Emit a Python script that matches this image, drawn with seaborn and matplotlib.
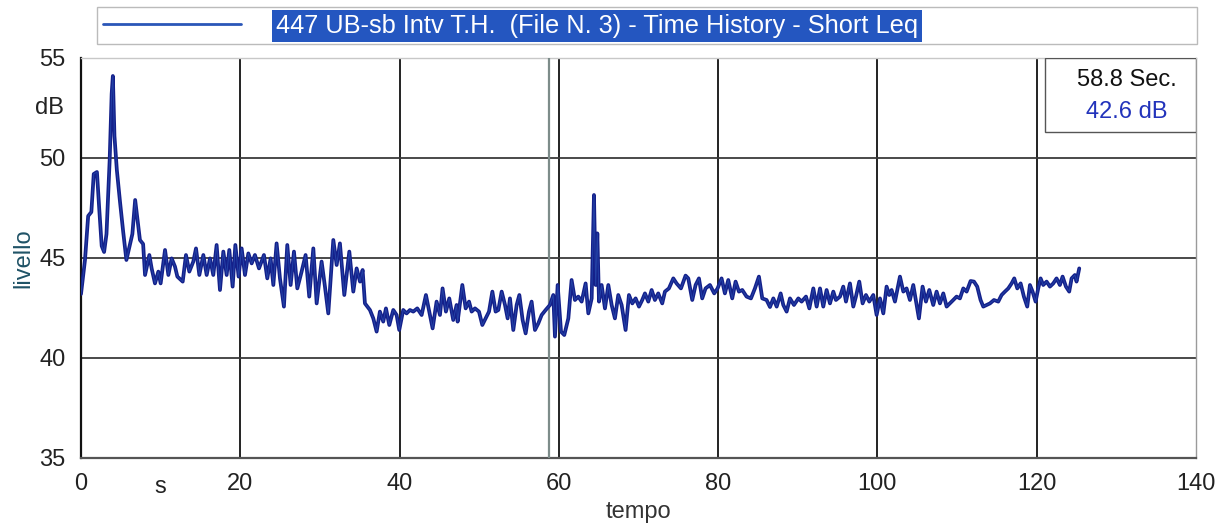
import matplotlib
matplotlib.use("Agg")
import matplotlib.pyplot as plt
import matplotlib.transforms as mtransforms
from matplotlib.patches import Rectangle
import seaborn as sns
import pandas as pd

# ---------------- data ----------------
time_s = [
    0.0, 0.5, 0.9, 1.3, 1.6, 2.0, 2.3, 2.6, 2.9, 3.2, 3.6, 3.85, 4.0, 4.2, 4.5, 4.9, 5.3, 5.7, 6.1, 6.45,
    6.8, 7.1, 7.4, 7.8, 8.04, 8.58, 8.87, 9.29, 9.71, 10.0, 10.55, 10.97, 11.38, 11.8, 12.1, 12.77, 13.18,
    13.6, 14.1, 14.44, 14.86, 15.36, 15.78, 16.2, 16.61, 17.03, 17.45, 17.87, 18.29, 18.62, 19.04, 19.38,
    19.79, 20.17, 20.59, 21.01, 21.43, 21.84, 22.35, 22.97, 23.39, 23.81, 24.15, 24.56, 24.98, 25.48, 25.9,
    26.32, 26.74, 27.16, 27.7, 28.2, 28.66, 29.17, 29.59, 30.21, 30.63, 31.05, 31.68, 32.1, 32.51, 33.06,
    33.69, 34.19, 34.61, 35.03, 35.36, 35.65, 36.28, 36.7, 37.12, 37.53, 37.95, 38.29, 38.71, 39.21, 39.63,
    39.96, 40.46, 40.88, 41.3, 41.72, 42.22, 42.77, 43.31, 43.73, 44.15, 44.65, 45.07, 45.4, 45.82, 46.24,
    46.74, 47.16, 47.29, 47.88, 48.3, 48.72, 49.05, 49.47, 49.97, 50.39, 50.81, 51.23, 51.65, 52.06, 52.4,
    52.82, 53.24, 53.57, 53.86, 54.28, 54.7, 55.04, 55.45, 55.83, 56.25, 56.58, 57.0, 57.42, 57.84, 58.34,
    58.88, 59.3, 59.51, 59.85, 60.27, 60.68, 61.19, 61.6, 62.02, 62.44, 62.86, 63.36, 63.7, 64.12, 64.41,
    64.62, 64.83, 65.04, 65.37, 65.79, 66.21, 66.63, 67.04, 67.46, 67.88, 68.38, 68.8, 69.22, 69.64, 70.06,
    70.47, 70.81, 71.23, 71.65, 72.06, 72.48, 72.98, 73.32, 73.82, 74.37, 74.78, 75.33, 75.91, 76.25, 76.75,
    77.17, 77.59, 78.0, 78.42, 78.97, 79.51, 79.93, 80.43, 80.85, 81.27, 81.77, 82.19, 82.61, 83.03, 83.57,
    84.12, 84.62, 85.12, 85.54, 86.08, 86.51, 86.93, 87.35, 87.85, 88.18, 88.6, 89.02, 89.52, 90.07, 90.48,
    91.03, 91.45, 91.95, 92.37, 92.79, 93.2, 93.62, 94.04, 94.46, 94.79, 95.3, 95.71, 96.05, 96.55, 96.97,
    97.3, 97.72, 98.14, 98.56, 98.98, 99.48, 99.9, 100.32, 100.74, 101.15, 101.49, 101.78, 102.2, 102.83,
    103.25, 103.66, 104.08, 104.5, 104.92, 105.21, 105.67, 106.09, 106.51, 107.01, 107.43, 107.85, 108.27,
    108.69, 109.1, 109.52, 109.94, 110.36, 110.78, 111.2, 111.7, 112.12, 112.53, 112.95, 113.29, 113.71,
    114.13, 114.63, 115.17, 115.59, 116.01, 116.43, 116.85, 117.18, 117.56, 117.98, 118.39, 118.81, 119.15,
    119.48, 119.86, 120.19, 120.49, 120.82, 121.24, 121.66, 122.08, 122.49, 122.91, 123.25, 123.67, 124.08,
    124.38, 124.79, 125.0, 125.34,
]
level_db = [
    43.2, 44.9, 47.1, 47.3, 49.2, 49.3, 47.4, 45.6, 45.3, 46.2, 49.9, 53.2, 54.1, 51.1, 49.4, 47.8, 46.3, 44.9, 45.6, 46.2,
    47.9, 46.9, 45.9, 45.7, 44.15, 45.15, 44.48, 43.73, 44.32, 43.73, 45.4, 44.15, 44.98, 44.57, 44.07, 43.82, 45.15,
    44.32, 44.82, 45.48, 44.15, 45.15, 44.15, 44.98, 44.15, 45.65, 43.4, 45.32, 44.15, 45.4, 43.57, 45.65,
    44.07, 45.48, 44.15, 45.23, 44.73, 45.15, 44.48, 45.15, 43.98, 44.98, 43.65, 45.73, 43.98, 42.57, 45.65,
    43.65, 45.32, 43.48, 44.32, 45.15, 43.07, 45.48, 42.73, 44.82, 43.57, 42.23, 45.9, 44.65, 45.73, 43.15,
    45.32, 43.32, 44.48, 43.82, 44.4, 42.73, 42.4, 41.98, 41.32, 42.32, 41.82, 42.48, 41.65, 42.4, 42.15,
    41.4, 42.4, 42.23, 42.4, 42.32, 42.48, 42.15, 43.15, 42.32, 41.48, 42.82, 42.15, 43.48, 42.32, 42.98,
    41.9, 42.65, 41.82, 43.65, 42.48, 42.82, 42.32, 42.48, 42.32, 41.65, 41.98, 42.32, 43.32, 42.32, 42.4,
    43.32, 42.65, 41.98, 42.98, 41.4, 42.65, 43.15, 41.9, 41.23, 42.32, 42.82, 41.4, 41.73, 42.15, 42.4,
    42.65, 43.15, 41.07, 43.65, 41.32, 41.15, 41.98, 43.9, 42.9, 43.07, 42.82, 43.73, 42.23, 42.98, 48.15,
    43.65, 46.23, 42.82, 43.65, 42.48, 43.65, 42.65, 41.98, 43.15, 42.65, 41.4, 43.15, 42.73, 42.98, 42.57,
    42.9, 43.23, 42.82, 43.4, 42.9, 43.23, 42.73, 43.32, 43.48, 43.98, 43.73, 43.48, 44.12, 43.98, 42.9,
    43.65, 43.98, 42.98, 43.48, 43.65, 43.23, 43.48, 43.98, 43.23, 43.9, 42.98, 43.82, 43.32, 43.4, 43.07,
    42.98, 43.48, 44.07, 42.98, 42.9, 42.55, 42.98, 42.57, 43.23, 42.65, 42.32, 42.98, 42.65, 42.98, 42.82,
    43.07, 42.48, 43.48, 42.57, 43.48, 42.57, 43.4, 42.73, 43.32, 42.9, 43.07, 43.57, 42.82, 43.73, 42.57,
    43.07, 43.82, 42.73, 43.15, 42.82, 43.15, 42.15, 42.98, 42.23, 43.57, 43.15, 43.4, 42.82, 44.07,
    43.32, 43.48, 42.9, 43.65, 42.65, 41.98, 43.57, 42.82, 43.4, 42.65, 43.32, 42.73, 43.23,
    42.57, 42.73, 42.9, 43.07, 42.98, 43.48, 43.32, 43.85, 43.82, 43.57, 42.9, 42.57, 42.65,
    42.73, 42.9, 42.82, 43.15, 43.32, 43.48, 43.73, 43.98, 43.48, 43.73, 43.07, 42.57, 43.65,
    43.32, 42.82, 43.48, 43.98, 43.65, 43.82, 43.57, 43.73, 43.98, 43.65, 44.07, 43.57, 43.32,
    43.98, 44.15, 43.82, 44.48,
]
x_ticks = [0, 20, 40, 60, 80, 100, 120, 140]
y_ticks = [35, 40, 45, 50, 55]
series_label = "447 UB-sb Intv T.H.  (File N. 3) - Time History - Short Leq"
cursor_time = 58.8
cursor_text = "58.8 Sec."
cursor_level_text = "42.6 dB"

df = pd.DataFrame({"tempo": time_s, "livello": level_db})

# ---------------- style ----------------
sns.set_style("white")
plt.rcParams["font.family"] = ["Liberation Sans", "DejaVu Sans"]

NAVY = "#14208a"
fig = plt.figure(figsize=(12.25, 5.25), dpi=100)
ax = fig.add_axes([81 / 1225, 1 - 458 / 525, 1115 / 1225, 400 / 525])

sns.lineplot(data=df, x="tempo", y="livello", ax=ax, color=NAVY, lw=2.7,
             label=series_label, zorder=5)
sns.lineplot(data=df, x="tempo", y="livello", ax=ax, color="#3a74d0", lw=0.7,
             alpha=0.4, zorder=6, legend=False)

ax.set_xlim(0, 140)
ax.set_ylim(35, 55)
ax.set_xticks(x_ticks)
ax.set_yticks(y_ticks)

# grid
for xv in x_ticks[1:-1]:
    ax.axvline(xv, color="#111111", lw=1.3, zorder=2)
for yv in y_ticks[1:-1]:
    ax.axhline(yv, color="#3a3a3a", lw=1.3, zorder=2)
# cursor
ax.axvline(cursor_time, color="#7d8c8a", lw=1.6, zorder=3)

for side, col, lw in [("left", "#111111", 1.6), ("bottom", "#555555", 1.6),
                      ("top", "#c8c8c8", 1.0), ("right", "#9a9a9a", 1.0)]:
    ax.spines[side].set_color(col)
    ax.spines[side].set_linewidth(lw)

ax.tick_params(axis="both", direction="out", length=5, width=1.0,
               colors="#9fb4c4", labelcolor="#222222", labelsize=17, pad=6)

ax.set_xlabel("tempo", fontsize=17, color="#333333", labelpad=4)
ax.set_ylabel("livello", fontsize=17, color="#1f5266", labelpad=4)

# units
ax.text(-0.015, 52.5, "dB", transform=mtransforms.blended_transform_factory(ax.transAxes, ax.transData),
        ha="right", va="center", fontsize=17, color="#222222")
ax.text(10, -0.072, "s", transform=mtransforms.blended_transform_factory(ax.transData, ax.transAxes),
        ha="center", va="center", fontsize=17, color="#222222")

# cursor read-out box
ax.add_patch(Rectangle((0.8646, 0.815), 0.1354, 0.185, transform=ax.transAxes,
                       facecolor="white", edgecolor="#555555", lw=1.0, zorder=7))
ax.text(0.938, 0.945, cursor_text, transform=ax.transAxes, ha="center", va="center",
        fontsize=17, color="#111111", zorder=8)
ax.text(0.938, 0.865, cursor_level_text, transform=ax.transAxes, ha="center", va="center",
        fontsize=17, color="#2233bb", zorder=8)

# legend on top
leg = ax.legend(loc="lower left", bbox_to_anchor=(97 / 1225, 1 - 44 / 525, 1100 / 1225, 36 / 525),
                bbox_transform=fig.transFigure, mode="expand", frameon=True, fancybox=False,
                fontsize=18.3, handlelength=5.4, handletextpad=1.4, borderpad=0.25,
                borderaxespad=0)
leg.get_frame().set_edgecolor("#aaaaaa")
leg.get_frame().set_linewidth(1.0)
for ln in leg.get_lines():
    ln.set_linewidth(2.0)
    ln.set_color("#2a56b8")
for t in leg.get_texts():
    t.set_color("white")
    t.set_bbox(dict(facecolor="#2456c0", edgecolor="none", pad=3))

fig.savefig("out.png", dpi=100)
